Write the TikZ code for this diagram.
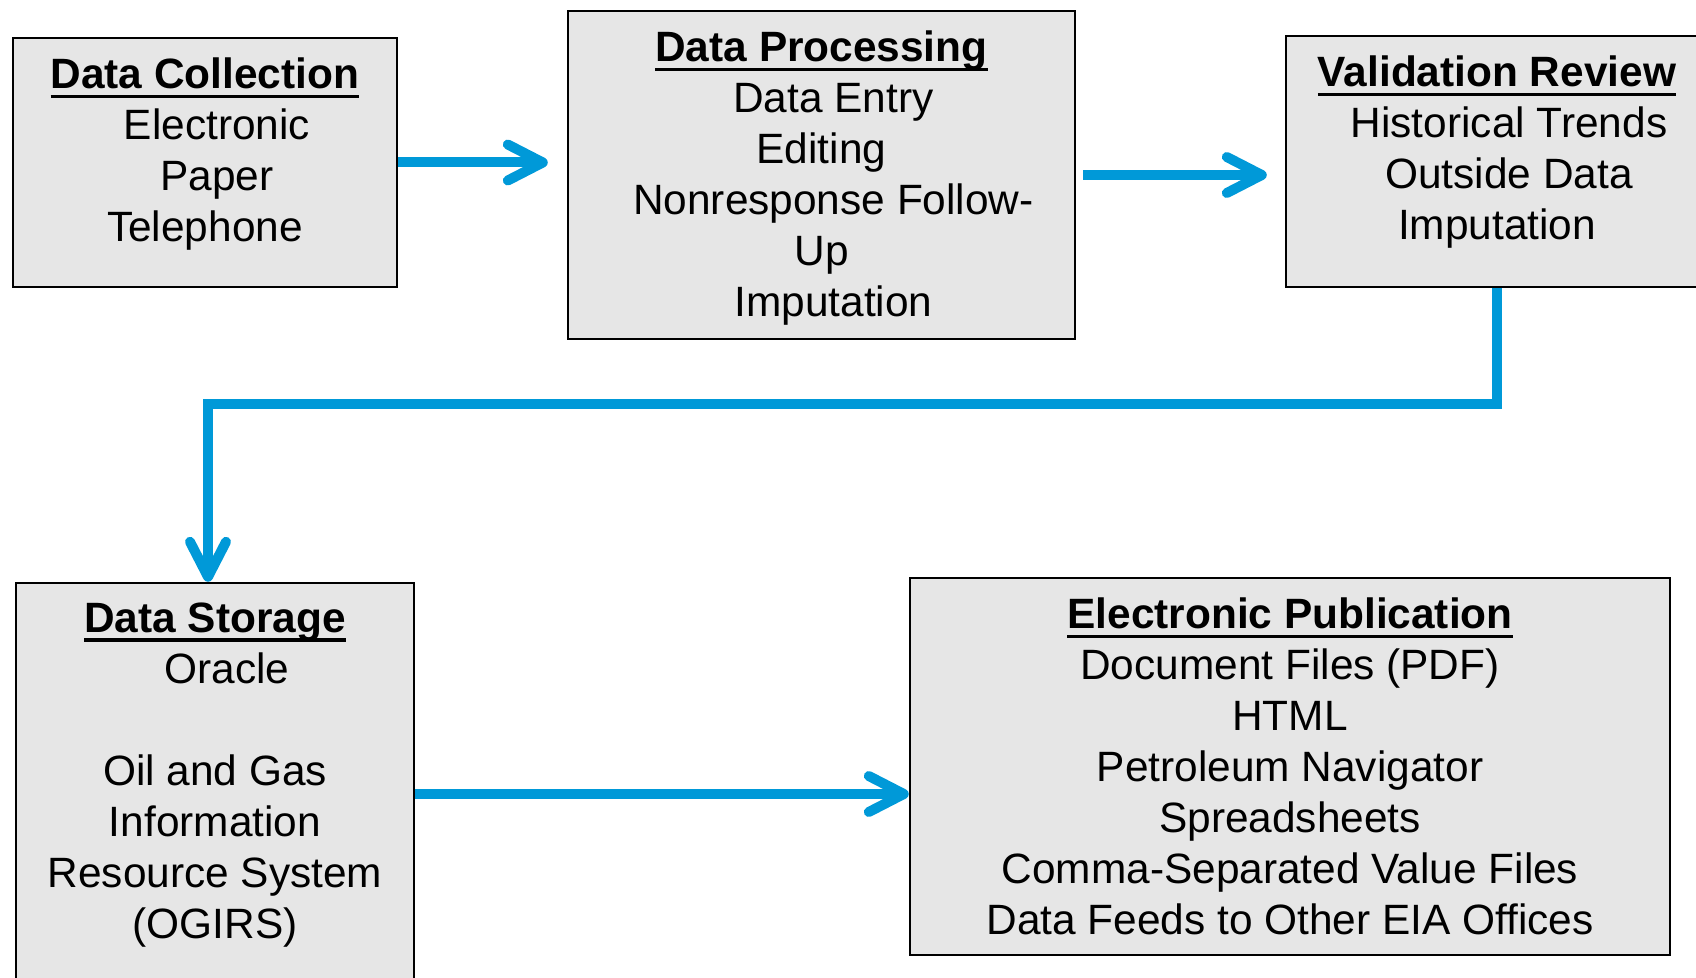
\documentclass[tikz,border=0pt]{standalone}
\usepackage{fontspec}
\setmainfont{Liberation Sans}
\usetikzlibrary{arrows.meta,positioning}
\definecolor{FlowBlue}{HTML}{0099D8}
\definecolor{BoxGray}{HTML}{E6E6E6}
\newcommand{\boxhead}[1]{\textbf{\setbox0\hbox{#1}\rlap{\rule[-4.6pt]{\wd0}{1.8pt}}\box0}}
\newcommand{\sh}{\hspace*{12pt}}

\begin{document}
\begin{tikzpicture}[x=0.5pt, y=-0.5pt,
  stage/.style={draw=black, line width=1.2pt, fill=BoxGray, inner sep=0pt},
  stagetext/.style={anchor=north, inner sep=0pt, align=center, font=\fontsize{21.2pt}{25.5pt}\selectfont},
  flow/.style={FlowBlue, line width=5pt, -{Straight Barb[length=17.5pt,width=18pt,round]}}]
  \useasboundingbox (0,0) rectangle (1696,978);

  \node[stage, minimum width=192pt, minimum height=124.5pt] (coll) at (205,162.5) {};
  \node[stage, minimum width=253.5pt, minimum height=164pt] (proc) at (821.5,175) {};
  \node[stage, minimum width=211pt, minimum height=125.5pt] (val) at (1497,161.5) {};
  \node[stage, minimum width=199pt, minimum height=211pt] (store) at (215,794) {};
  \node[stage, minimum width=380pt, minimum height=188.5pt] (pub) at (1290,766.5) {};

  \node[stagetext] (colltext) at ([yshift=-10.5pt]coll.north)
    {\boxhead{Data Collection}\\\sh Electronic\\\sh Paper\\Telephone};
  \node[stagetext] (proctext) at ([yshift=-10.5pt]proc.north)
    {\boxhead{Data Processing}\\\sh Data Entry\\Editing\\\sh Nonresponse Follow-\\Up\\\sh Imputation};
  \node[stagetext] (valtext) at ([yshift=-10.5pt]val.north)
    {\boxhead{Validation Review}\\\sh Historical Trends\\\sh Outside Data\\Imputation};
  \node[stagetext] (storetext) at ([yshift=-10.5pt]store.north)
    {\boxhead{Data Storage}\\\sh Oracle\\[25.5pt]Oil and Gas\\Information\\Resource System\\(OGIRS)};
  \node[stagetext] (pubtext) at ([yshift=-10.5pt]pub.north)
    {\boxhead{Electronic Publication}\\Document Files (PDF)\\HTML\\Petroleum Navigator\\Spreadsheets\\Comma-Separated Value Files\\Data Feeds to Other EIA Offices};

  \draw[flow, shorten >=9.5pt] (coll.east) -- (coll.east -| proc.west);
  \draw[flow, shorten <=3.5pt, shorten >=9pt] (proc.east) -- (proc.east -| val.west);
  \draw[flow] (val.south) -- ++(0,116) -| ([xshift=-3.5pt]store.north);
  \draw[flow] (store.east) -- (store.east -| pub.west);
\end{tikzpicture}
\end{document}
